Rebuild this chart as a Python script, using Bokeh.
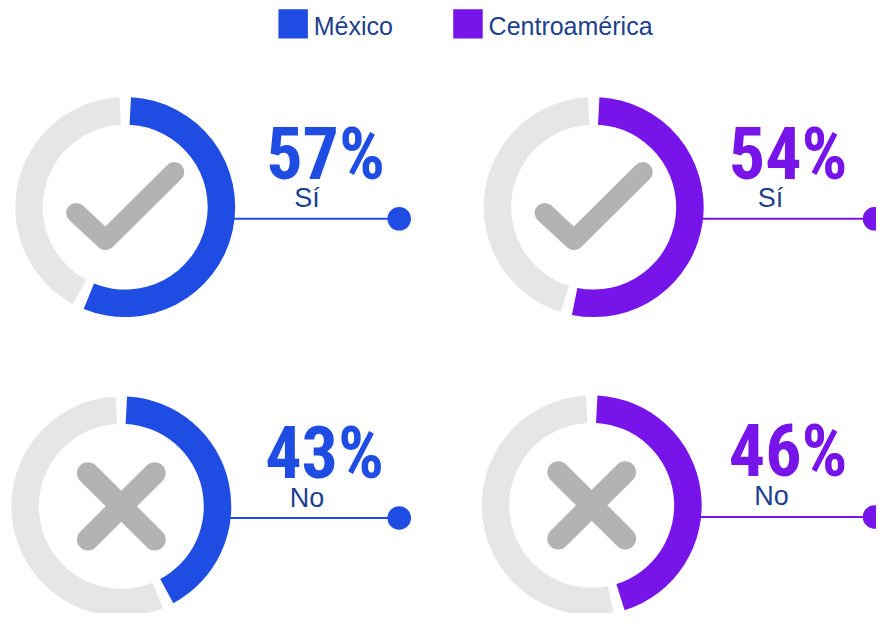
from bokeh.plotting import figure
from bokeh.models import Range1d, ColumnDataSource
from bokeh.core.properties import value
from bokeh.embed import file_html
from bokeh.resources import INLINE

# ---- data ----
regions = ["México", "Centroamérica"]
answers = ["Sí", "No"]
mexico_pct = [57, 43]
centro_pct = [54, 46]
region_colors = ["#1f4ce2", "#7614e9"]

# ---- style / layout constants (reference pixel space, y measured downward) ----
W, H = 892, 629
RING_GRAY = "#e6e6e6"
ICON_GRAY = "#b3b3b3"
NAVY = "#1c3f8e"
R_IN, R_OUT = 84, 112
GAP = 3.0  # degrees trimmed at each segment end

# panel centers: rows = answers, cols = regions
centers = {(0, 0): (127, 212), (0, 1): (604, 212),
           (1, 0): (123, 519), (1, 1): (602, 518)}
dot_x = [406, 890]
line_dy = 12
pct_pos = {(0, 0): (331, 158), (0, 1): (802, 158),
           (1, 0): (330, 465), (1, 1): (802, 463)}
lab_pos = {(0, 0): (312, 203), (0, 1): (784, 203),
           (1, 0): (312, 510), (1, 1): (785, 508)}


def Y(y):
    return H - y


p = figure(width=876, height=613, output_backend="svg", toolbar_location=None,
           x_range=Range1d(0, W), y_range=Range1d(0, H),
           x_axis_type=None, y_axis_type=None, min_border=0,
           outline_line_color=None, background_fill_color="white",
           border_fill_color="white")
p.grid.visible = False

values = [mexico_pct, centro_pct]

ring = dict(x=[], y=[], s=[], e=[], c=[])
for col in range(2):
    for row in range(2):
        cx, cy = centers[(row, col)]
        v = values[col][row] / 100.0
        ring["x"].append(cx); ring["y"].append(Y(cy))
        ring["s"].append(90 - 360 * v + GAP); ring["e"].append(90 - GAP)
        ring["c"].append(region_colors[col])
        ring["x"].append(cx); ring["y"].append(Y(cy))
        ring["s"].append(90 + GAP); ring["e"].append(450 - 360 * v - GAP)
        ring["c"].append(RING_GRAY)

p.annular_wedge(x="x", y="y", inner_radius=R_IN, outer_radius=R_OUT,
                start_angle="s", end_angle="e", start_angle_units="deg",
                end_angle_units="deg", direction="anticlock",
                fill_color="c", line_color=None, source=ColumnDataSource(ring))

# icons
xs, ys = [], []
for col in range(2):
    cx, cy = centers[(0, col)]
    xs.append([cx - 50, cx - 20, cx + 50])
    ys.append([Y(cy + 6), Y(cy + 34), Y(cy - 36)])
p.multi_line(xs, ys, line_color=ICON_GRAY, line_width=20,
             line_cap="round", line_join="round")
xs, ys = [], []
for col in range(2):
    cx, cy = centers[(1, col)]
    xs += [[cx - 34, cx + 34], [cx - 34, cx + 34]]
    ys += [[Y(cy - 34), Y(cy + 34)], [Y(cy + 34), Y(cy - 34)]]
p.multi_line(xs, ys, line_color=ICON_GRAY, line_width=22, line_cap="round")

# connectors, dots, texts
for col in range(2):
    for row in range(2):
        cx, cy = centers[(row, col)]
        ly = Y(cy + line_dy)
        p.line([cx + R_OUT - 2, dot_x[col]], [ly, ly],
               line_color=region_colors[col], line_width=2)
        p.circle([dot_x[col]], [ly], radius=12,
                 fill_color=region_colors[col], line_color=None)
        px, py = pct_pos[(row, col)]
        p.text([px], [Y(py)], text=[f"{values[col][row]}%"],
               text_font=value("Roboto Condensed"), text_font_style="bold",
               text_font_size="72px", text_color=region_colors[col],
               text_align="center", text_baseline="alphabetic")
        lx, ly2 = lab_pos[(row, col)]
        p.text([lx], [Y(ly2)], text=[answers[row]],
               text_font=value("Liberation Sans"), text_font_size="27px",
               text_color=NAVY, text_align="center",
               text_baseline="alphabetic")

# legend
leg_x = [283, 461]
for i, name in enumerate(regions):
    p.rect([leg_x[i] + 15], [Y(24)], width=30, height=30,
           fill_color=region_colors[i], line_color=None)
    p.text([leg_x[i] + 36], [Y(26)], text=[name],
           text_font=value("Liberation Sans"), text_font_size="25px",
           text_color=NAVY, text_align="left", text_baseline="alphabetic")

open("out.html", "w").write(file_html(p, INLINE))
